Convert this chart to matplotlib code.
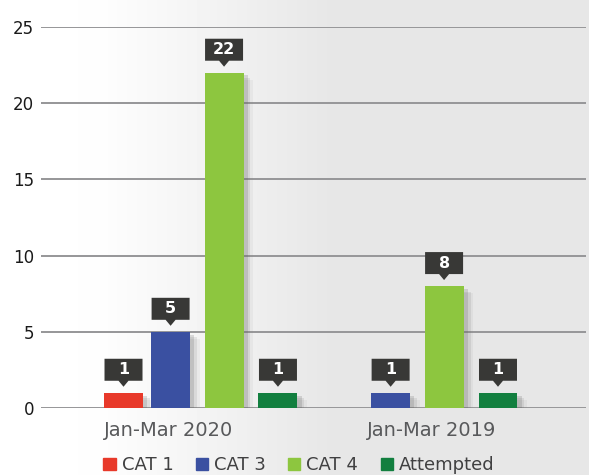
import matplotlib.pyplot as plt
import matplotlib.patheffects as pe
from matplotlib.patches import Polygon
from matplotlib.transforms import IdentityTransform
import numpy as np

# datos
periodos = ['Jan-Mar 2020', 'Jan-Mar 2019']
series = ['CAT 1', 'CAT 3', 'CAT 4', 'Attempted']
cat1 = [1, 0]
cat3 = [5, 1]
cat4 = [22, 8]
attempted = [1, 1]
valores = [cat1, cat3, cat4, attempted]
colores = ['#e8392a', '#3a50a1', '#8dc63f', '#127f3f']

plt.rcParams['font.family'] = ['DejaVu Sans']

fig = plt.figure(figsize=(5.89, 4.75), dpi=100)

# fondo degradado blanco -> gris
bg = fig.add_axes([0, 0, 1, 1], zorder=-10)
xs = np.linspace(0, 589, 589)
tono = np.interp(xs, [0, 100, 330, 589], [1.0, 0.995, 0.905, 0.905])
grad = np.tile(tono, (10, 1))
bg.imshow(grad, cmap='gray', vmin=0, vmax=1, aspect='auto', extent=[0, 1, 0, 1])
bg.axis('off')

ax = fig.add_axes([41 / 589, 67 / 475, 545 / 589, 381 / 475])
ax.set_facecolor('none')
ax.set_xlim(-0.726, 1.751)
ax.set_ylim(0, 25)

desplaz = [-0.351, -0.137, 0.106, 0.351]
ancho = 0.177
x = np.arange(len(periodos))

sombra = [pe.SimplePatchShadow(offset=(7, -5), shadow_rgbFace='#808080', alpha=0.08),
          pe.SimplePatchShadow(offset=(5, -4), shadow_rgbFace='#707070', alpha=0.14),
          pe.SimplePatchShadow(offset=(3, -2), shadow_rgbFace='#606060', alpha=0.2),
          pe.Normal()]

barras = []
for i in range(len(series)):
    b = ax.bar(x + desplaz[i], valores[i], width=ancho, color=colores[i], zorder=3,
               path_effects=sombra)
    barras.append(b)

ax.set_yticks([0, 5, 10, 15, 20, 25])
ax.grid(axis='y', color='#98989a', linewidth=1.44, zorder=0)
for l in ax.get_ygridlines():
    l.set_snap(True)
ax.tick_params(axis='y', length=0, pad=5, labelsize=12, labelcolor='#1a1a1a')
ax.set_xticks([x[0] - 0.144, x[1] + 0.051])
ax.set_xticklabels(periodos, fontsize=14, color='#58595b')
ax.tick_params(axis='x', length=0, pad=9)
for s in ax.spines.values():
    s.set_visible(False)

# etiquetas tipo globo encima de cada barra
fig.canvas.draw()
for b in barras:
    for r in b:
        h = r.get_height()
        if h == 0:
            continue
        cx, ty = ax.transData.transform((r.get_x() + r.get_width() / 2, h))
        hw = 19
        base = ty + 12
        caja = [(cx - hw, base), (cx - 5, base), (cx, ty + 6), (cx + 5, base),
                (cx + hw, base), (cx + hw, base + 22), (cx - hw, base + 22)]
        fig.patches.append(Polygon(caja, closed=True, transform=IdentityTransform(),
                                   facecolor='#383836', edgecolor='none', zorder=5,
                                   figure=fig))
        fig.text(cx / 589, (base + 11) / 475, str(int(h)), transform=fig.transFigure,
                 ha='center', va='center', color='white', fontsize=11.5,
                 fontweight='bold', zorder=6)

handles = [plt.Rectangle((0, 0), 1, 1, color=c) for c in colores]
fig.legend(handles, series, loc='center', bbox_to_anchor=(299 / 589, 10 / 475), ncol=4,
           frameon=False, fontsize=13, handlelength=0.67, handleheight=0.67,
           handletextpad=0.33, columnspacing=1.25, labelcolor='#404041', borderpad=0)

plt.savefig('out.png', dpi=100)
